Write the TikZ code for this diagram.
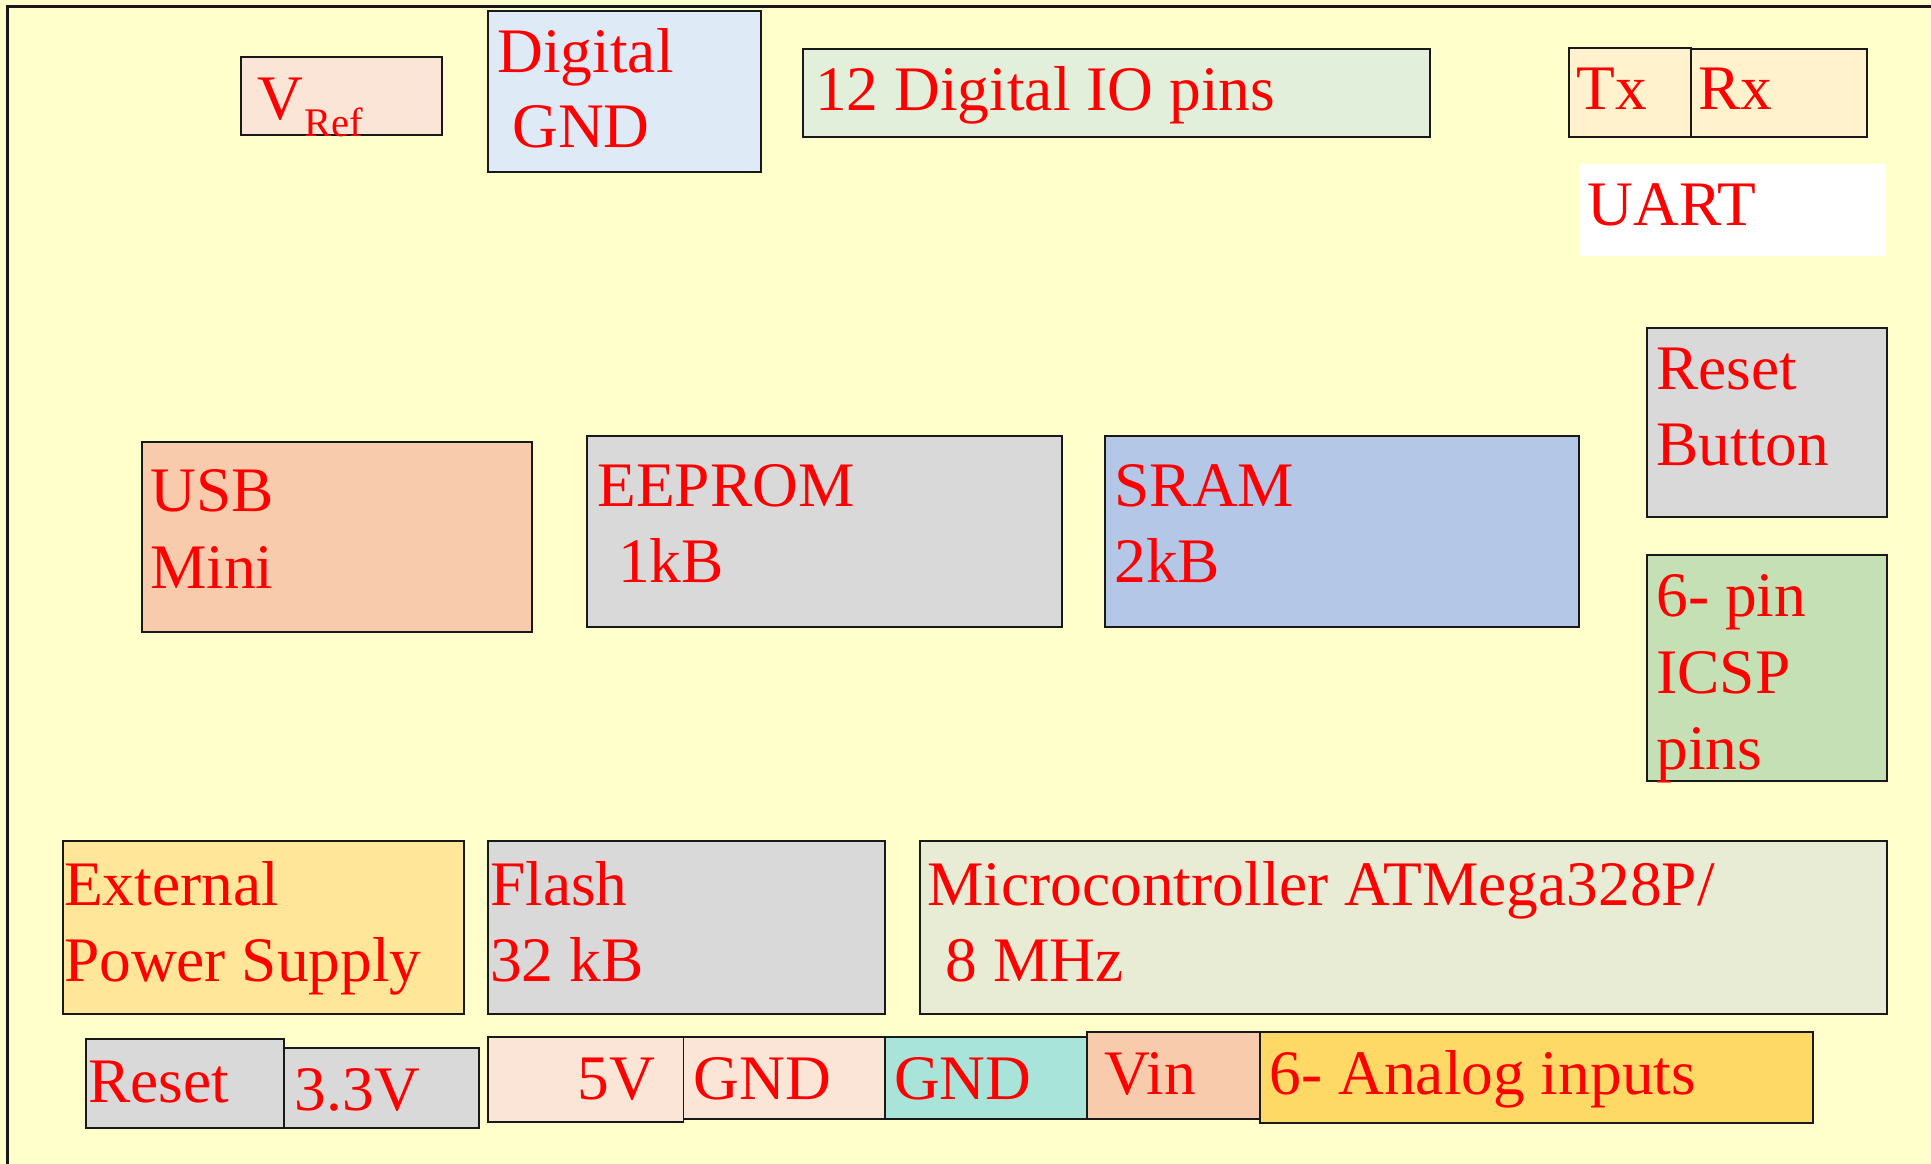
\documentclass[tikz,border=0pt]{standalone}
\usepackage{fontspec}
\setmainfont{Liberation Serif}
\definecolor{bgyellow}{HTML}{FFFFCC}
\definecolor{cPeachLight}{HTML}{FBE5D6}
\definecolor{cBlueLight}{HTML}{DEEBF7}
\definecolor{cGreenLight}{HTML}{E2EFDA}
\definecolor{cCream}{HTML}{FFF2CC}
\definecolor{cGrey}{HTML}{D9D9D9}
\definecolor{cGreen}{HTML}{C5E0B4}
\definecolor{cPeach}{HTML}{F8CBAD}
\definecolor{cBlue}{HTML}{B4C7E7}
\definecolor{cGold}{HTML}{FFE699}
\definecolor{cOlive}{HTML}{E9ECD4}
\definecolor{cTeal}{HTML}{A8E4D9}
\definecolor{cAmber}{HTML}{FFD966}
\definecolor{txtred}{HTML}{FF0000}
\newcommand{\boxat}[6]{% name, fill, x1, y1, x2, y2
  \node[box, fill=#2, minimum width={(#5-#3)*1pt}, minimum height={(#6-#4)*1pt}] (#1) at (#3,-#4) {};}
\begin{document}
\begin{tikzpicture}[x=1pt,y=1pt,
  box/.style={draw=black!90, line width=1.6pt, inner sep=0pt, outer sep=0pt, anchor=north west, rectangle},
  lbl/.style={text=txtred, anchor=base west, inner sep=0pt, outer sep=0pt,
    font=\fontsize{51.5}{62}\selectfont},
  sublbl/.style={lbl, font=\fontsize{33}{40}\selectfont}]
% page background
\fill[bgyellow] (0,0) rectangle (1568,-945);
\useasboundingbox (0,0) rectangle (1568,-945);
% board outline (top and left edges only)
\coordinate (frameBL) at (6,-945);
\coordinate (frameTL) at (6,-5.5);
\coordinate (frameTR) at (1568,-5.5);
\draw[black!90, line width=2.4pt] (frameBL) -- (frameTL) -- (frameTR);

% top row
\boxat{vref}{cPeachLight}{196}{46}{359}{110}
\boxat{dgnd}{cBlueLight}{396}{9}{618}{140}
\boxat{dio}{cGreenLight}{652}{40}{1161}{111}
\boxat{tx}{cCream}{1274}{39}{1373}{111}
\boxat{rx}{cCream}{1373}{40}{1516}{111}
\node[fill=white, inner sep=0pt, anchor=north west, minimum width=249pt, minimum height=75pt] (uart) at (1282,-133) {};
% right column
\boxat{rbtn}{cGrey}{1337}{266}{1532}{420}
\boxat{icsp}{cGreen}{1337}{451}{1532}{634}
% middle row
\boxat{usb}{cPeach}{115}{359}{432}{513}
\boxat{eeprom}{cGrey}{477}{354}{862}{509}
\boxat{sram}{cBlue}{897}{354}{1282}{509}
% lower row
\boxat{ext}{cGold}{51}{683}{377}{823}
\boxat{flash}{cGrey}{396}{683}{719}{823}
\boxat{mcu}{cOlive}{747}{683}{1532}{823}
% header pins
\boxat{rst}{cGrey}{70}{844}{231}{916}
\boxat{v33}{cGrey}{231}{851}{389}{916}
\boxat{v5}{cPeachLight}{396}{842}{555}{911}
\boxat{gndA}{cPeachLight}{555}{842}{719}{909}
\boxat{gndB}{cTeal}{719}{842}{883}{909}
\boxat{vin}{cPeach}{883}{838}{1023}{909}
\boxat{ana}{cAmber}{1023}{838}{1472}{912}

% labels
\node[lbl] (tV) at (209,-97) {V};
\node[sublbl] (tRef) at (247,-111) {Ref};
\node[lbl] (tDig) at (404,-59) {Digital};
\node[lbl] (tDgnd) at (416,-120) {GND};
\node[lbl] (tDio) at (662,-90) {12 Digital IO pins};
\node[lbl] (tTx) at (1280,-89) {Tx};
\node[lbl] (tRx) at (1379,-89) {Rx};
\node[lbl] (tUart) at (1289,-183) {UART};
\node[lbl] (tReset) at (1345,-316) {Reset};
\node[lbl] (tButton) at (1345,-378) {Button};
\node[lbl] (tSixPin) at (1345,-501) {6- pin};
\node[lbl] (tIcsp) at (1345,-563) {ICSP};
\node[lbl] (tPins) at (1345,-625) {pins};
\node[lbl] (tUsb) at (122,-415) {USB};
\node[lbl] (tMini) at (122,-478) {Mini};
\node[lbl] (tEeprom) at (485,-411) {EEPROM};
\node[lbl] (tOneK) at (502,-473) {1kB};
\node[lbl] (tSram) at (905,-411) {SRAM};
\node[lbl] (tTwoK) at (905,-473) {2kB};
\node[lbl] (tExt) at (52,-735) {External};
\node[lbl] (tPower) at (52,-797) {Power Supply};
\node[lbl] (tFlash) at (398,-735) {Flash};
\node[lbl] (tFlashK) at (398,-797) {32 kB};
\node[lbl] (tMcu) at (753,-735) {Microcontroller ATMega328P/};
\node[lbl] (tMhz) at (768,-797) {8 MHz};
\node[lbl] (tRst) at (71.5,-895) {Reset};
\node[lbl] (tV33) at (239.5,-902) {3.3V};
\node[lbl] (tV5) at (469,-893) {5V};
\node[lbl] (tGndA) at (563.5,-893) {GND};
\node[lbl] (tGndB) at (726,-893) {GND};
\node[lbl] (tVin) at (897,-889) {Vin};
\node[lbl] (tAna) at (1031,-889) {6- Analog inputs};
\end{tikzpicture}
\end{document}
